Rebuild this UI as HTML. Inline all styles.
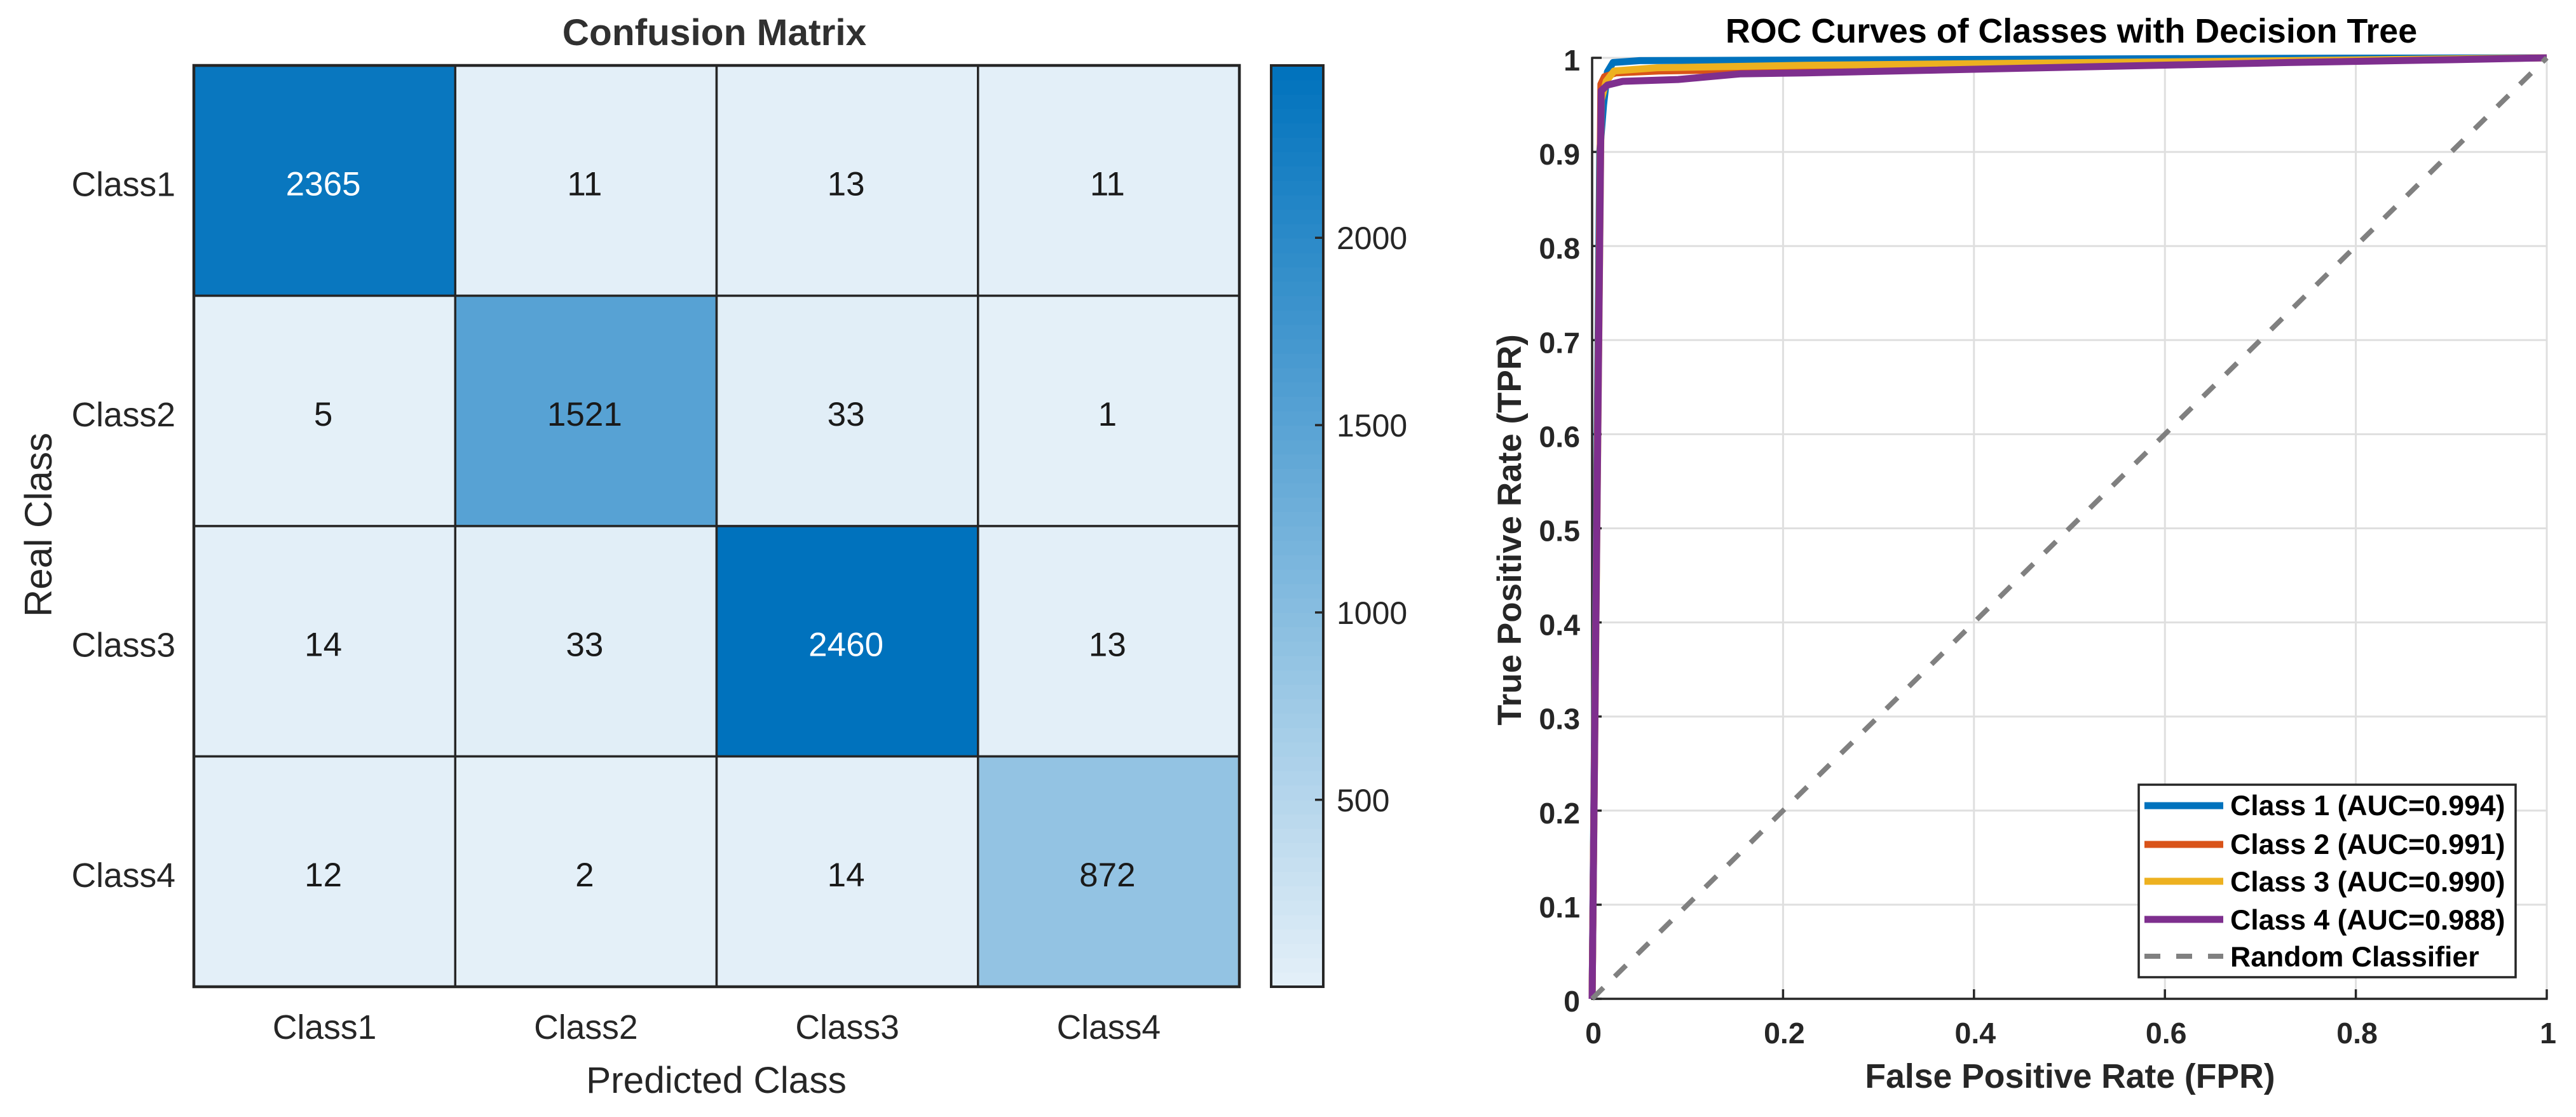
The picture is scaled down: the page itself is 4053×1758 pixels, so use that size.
<!DOCTYPE html>
<html>
<head>
<meta charset="utf-8">
<title>Confusion Matrix and ROC Curves</title>
<style>
html,body{margin:0;padding:0;background:#fff;width:4053px;height:1758px;overflow:hidden}
svg{display:block}
text{font-family:"Liberation Sans",Arial,sans-serif;fill:#262626}
.b{font-weight:bold}
</style>
</head>
<body>
<svg id="fig" xmlns="http://www.w3.org/2000/svg" width="4053" height="1758" viewBox="0 0 4053 1758">
  <rect x="0" y="0" width="4053" height="1758" fill="#fff"/>
  <g id="heat"></g>
  <g id="cbar"></g>
  <g id="roc"></g>
  <text class="b" x="1124" y="71" font-size="58.6" text-anchor="middle" style="fill:#303030">Confusion Matrix</text>
  <text x="1127" y="1720" font-size="58.5" text-anchor="middle">Predicted Class</text>
  <text transform="translate(81,826) rotate(-90)" font-size="60" text-anchor="middle">Real Class</text>
  <text class="b" x="3259" y="67" font-size="53.8" text-anchor="middle" style="fill:#000">ROC Curves of Classes with Decision Tree</text>
  <text class="b" x="3257" y="1712" font-size="53.5" text-anchor="middle">False Positive Rate (FPR)</text>
  <text class="b" transform="translate(2393,834) rotate(-90)" font-size="53" text-anchor="middle">True Positive Rate (TPR)</text>
  <g id="legend">
    <rect x="3365" y="1235" width="593" height="303" fill="#fff" stroke="#262626" stroke-width="3.5"/>
    <line x1="3374" x2="3498" y1="1268" y2="1268" stroke="#0072BD" stroke-width="11"/>
    <line x1="3374" x2="3498" y1="1329" y2="1329" stroke="#D95319" stroke-width="11"/>
    <line x1="3374" x2="3498" y1="1387" y2="1387" stroke="#EDB120" stroke-width="11"/>
    <line x1="3374" x2="3498" y1="1447" y2="1447" stroke="#7E2F8E" stroke-width="11"/>
    <line x1="3374" x2="3498" y1="1505" y2="1505" stroke="#808080" stroke-width="8" stroke-dasharray="25 25"/>
    <text class="b" x="3509" y="1283" font-size="44.6" style="fill:#000">Class 1 (AUC=0.994)</text>
    <text class="b" x="3509" y="1344" font-size="44.6" style="fill:#000">Class 2 (AUC=0.991)</text>
    <text class="b" x="3509" y="1403" font-size="44.6" style="fill:#000">Class 3 (AUC=0.990)</text>
    <text class="b" x="3509" y="1463" font-size="44.6" style="fill:#000">Class 4 (AUC=0.988)</text>
    <text class="b" x="3509" y="1521" font-size="44.6" style="fill:#000">Random Classifier</text>
  </g>
</svg>
<script>
// ---- Confusion matrix data ----
var classLabels = ["Class1", "Class2", "Class3", "Class4"];
var confusionRow1 = [2365, 11, 13, 11];
var confusionRow2 = [5, 1521, 33, 1];
var confusionRow3 = [14, 33, 2460, 13];
var confusionRow4 = [12, 2, 14, 872];
var colorbarTicks = [500, 1000, 1500, 2000];

// ---- ROC data ----
var rocXTicks = [0, 0.2, 0.4, 0.6, 0.8, 1];
var rocYTicks = [0, 0.1, 0.2, 0.3, 0.4, 0.5, 0.6, 0.7, 0.8, 0.9, 1];
var fprClass1 = [0, 0.008, 0.012, 0.016, 0.022, 0.05, 0.3, 0.73, 1];
var tprClass1 = [0, 0.9, 0.95, 0.985, 0.995, 0.997, 0.998, 0.9995, 1];
var fprClass2 = [0, 0.0092, 0.013, 0.025, 0.07, 0.2, 0.6, 1];
var tprClass2 = [0, 0.972, 0.98, 0.984, 0.986, 0.988, 0.994, 1];
var fprClass3 = [0, 0.0095, 0.0147, 0.023, 0.068, 0.223, 0.73, 1];
var tprClass3 = [0, 0.955, 0.975, 0.986, 0.9895, 0.992, 0.997, 1];
var fprClass4 = [0, 0.0095, 0.016, 0.032, 0.09, 0.156, 0.223, 0.729, 0.9, 1];
var tprClass4 = [0, 0.965, 0.971, 0.975, 0.977, 0.983, 0.984, 0.995, 0.998, 1];
var fprRandom = [0, 1];
var tprRandom = [0, 1];

var NS = "http://www.w3.org/2000/svg";
function mk(parent, tag, attrs) {
  var el = document.createElementNS(NS, tag);
  for (var k in attrs) el.setAttribute(k, attrs[k]);
  parent.appendChild(el);
  return el;
}
function label(parent, str, x, y, size, anchor, cls, color) {
  var t = mk(parent, "text", {x: x, y: y, "font-size": size, "text-anchor": anchor});
  if (cls) t.setAttribute("class", cls);
  if (color) t.style.fill = color;
  t.textContent = str;
  return t;
}

// ---- Heatmap ----
var HM = {left: 305, right: 1950, top: 103, bottom: 1553};
var matrix = [confusionRow1, confusionRow2, confusionRow3, confusionRow4];
var allValues = matrix.reduce(function (a, r) { return a.concat(r); }, []);
var vMin = Math.min.apply(null, allValues);
var vMax = Math.max.apply(null, allValues);
function colX(i) { return HM.left + i * (HM.right - HM.left) / classLabels.length; }
function rowY(i) { return HM.top + i * (HM.bottom - HM.top) / classLabels.length; }
function colorOf(v) {
  var f = (v - vMin) / (vMax - vMin);
  var lo = [228, 240, 248], hi = [0, 114, 189];
  return "rgb(" + lo.map(function (c, i) { return Math.round(c + (hi[i] - c) * f); }).join(",") + ")";
}
var heat = document.getElementById("heat");
matrix.forEach(function (row, r) {
  row.forEach(function (v, c) {
    var cell = mk(heat, "rect", {x: colX(c), y: rowY(r), width: colX(c + 1) - colX(c), height: rowY(r + 1) - rowY(r), fill: colorOf(v), stroke: "#262626", "stroke-width": 3.5});
    
    
    var txt = label(heat, String(v), (colX(c) + colX(c + 1)) / 2 - 2, (rowY(r) + rowY(r + 1)) / 2 + 23, 53, "middle", null, v > 0.7 * vMax ? "#ffffff" : "#1a1a1a");
    
    
  });
});
var hmFrame = mk(heat, "rect", {x: HM.left, y: HM.top, width: HM.right - HM.left, height: HM.bottom - HM.top, fill: "none", stroke: "#262626", "stroke-width": 4.5});


classLabels.forEach(function (name, i) {
  var yl = label(heat, name, 276, (rowY(i) + rowY(i + 1)) / 2 + 24, 53.5, "end");
  
  
  var xl = label(heat, name, (colX(i) + colX(i + 1)) / 2, 1635, 53.5, "middle");
  
  
});

// ---- Colorbar ----
var CB = {left: 2000, right: 2082, top: 103, bottom: 1553};
function cbY(v) { return CB.bottom - (v - vMin) / (vMax - vMin) * (CB.bottom - CB.top); }
var cbar = document.getElementById("cbar");
var bands = 64;
for (var b = 0; b < bands; b++) {
  var v0 = vMin + (vMax - vMin) * b / bands;
  var v1 = vMin + (vMax - vMin) * (b + 1) / bands;
  var band = mk(cbar, "rect", {x: CB.left, y: cbY(v1), width: CB.right - CB.left, height: cbY(v0) - cbY(v1) + 0.6, fill: colorOf((v0 + v1) / 2)});
  
  
}
var cbFrame = mk(cbar, "rect", {x: CB.left, y: CB.top, width: CB.right - CB.left, height: CB.bottom - CB.top, fill: "none", stroke: "#262626", "stroke-width": 4});


colorbarTicks.forEach(function (v) {
  var tk = mk(cbar, "line", {x1: CB.right - 13, x2: CB.right, y1: cbY(v), y2: cbY(v), stroke: "#262626", "stroke-width": 3.5});
  
  
  var tl = label(cbar, String(v), 2103, cbY(v) + 18, 50, "start");
  
  
});

// ---- ROC chart ----
var RC = {x0: 2505, x1: 4007, y0: 1572, y1: 91};
function xRoc(v) { return RC.x0 + v * (RC.x1 - RC.x0); }
function yRoc(v) { return RC.y0 - v * (RC.y0 - RC.y1); }
var roc = document.getElementById("roc");
rocXTicks.forEach(function (v) {
  if (v === 0) return;
  var g = mk(roc, "line", {x1: xRoc(v), x2: xRoc(v), y1: RC.y0, y2: RC.y1, stroke: "#dfdfdf", "stroke-width": 3});
  
  
});
rocYTicks.forEach(function (v) {
  if (v === 0) return;
  var g = mk(roc, "line", {x1: RC.x0, x2: RC.x1, y1: yRoc(v), y2: yRoc(v), stroke: "#dfdfdf", "stroke-width": 3});
  
  
});
var yAxis = mk(roc, "line", {x1: RC.x0, x2: RC.x0, y1: RC.y1 - 1.5, y2: RC.y0 + 1.5, stroke: "#262626", "stroke-width": 3.5});


var xAxis = mk(roc, "line", {x1: RC.x0 - 1.5, x2: RC.x1 + 1.5, y1: RC.y0, y2: RC.y0, stroke: "#262626", "stroke-width": 3.5});


rocXTicks.forEach(function (v) {
  var tk = mk(roc, "line", {x1: xRoc(v), x2: xRoc(v), y1: RC.y0, y2: RC.y0 - 15, stroke: "#262626", "stroke-width": 3.5});
  
  
  var tl = label(roc, String(v), xRoc(v) + 2, 1642, 46.5, "middle", "b");
  
  
});
rocYTicks.forEach(function (v) {
  var tk = mk(roc, "line", {x1: RC.x0, x2: RC.x0 + 15, y1: yRoc(v), y2: yRoc(v), stroke: "#262626", "stroke-width": 3.5});
  
  
  var tl = label(roc, String(v), 2486, yRoc(v) + 20, 46.5, "end", "b");
  
  
});
function pathOf(xs, ys) {
  return xs.map(function (x, i) { return (i ? "L" : "M") + xRoc(x).toFixed(1) + " " + yRoc(ys[i]).toFixed(1); }).join("");
}
var c1 = mk(roc, "path", {d: pathOf(fprClass1, tprClass1), fill: "none", stroke: "#0072BD", "stroke-width": 11, "stroke-linejoin": "round"});


var c2 = mk(roc, "path", {d: pathOf(fprClass2, tprClass2), fill: "none", stroke: "#D95319", "stroke-width": 11, "stroke-linejoin": "round"});


var c3 = mk(roc, "path", {d: pathOf(fprClass3, tprClass3), fill: "none", stroke: "#EDB120", "stroke-width": 11, "stroke-linejoin": "round"});


var c4 = mk(roc, "path", {d: pathOf(fprClass4, tprClass4), fill: "none", stroke: "#7E2F8E", "stroke-width": 11, "stroke-linejoin": "round"});


var c5 = mk(roc, "path", {d: pathOf(fprRandom, tprRandom), fill: "none", stroke: "#808080", "stroke-width": 8, "stroke-dasharray": "25 25"});


</script>
</body>
</html>
